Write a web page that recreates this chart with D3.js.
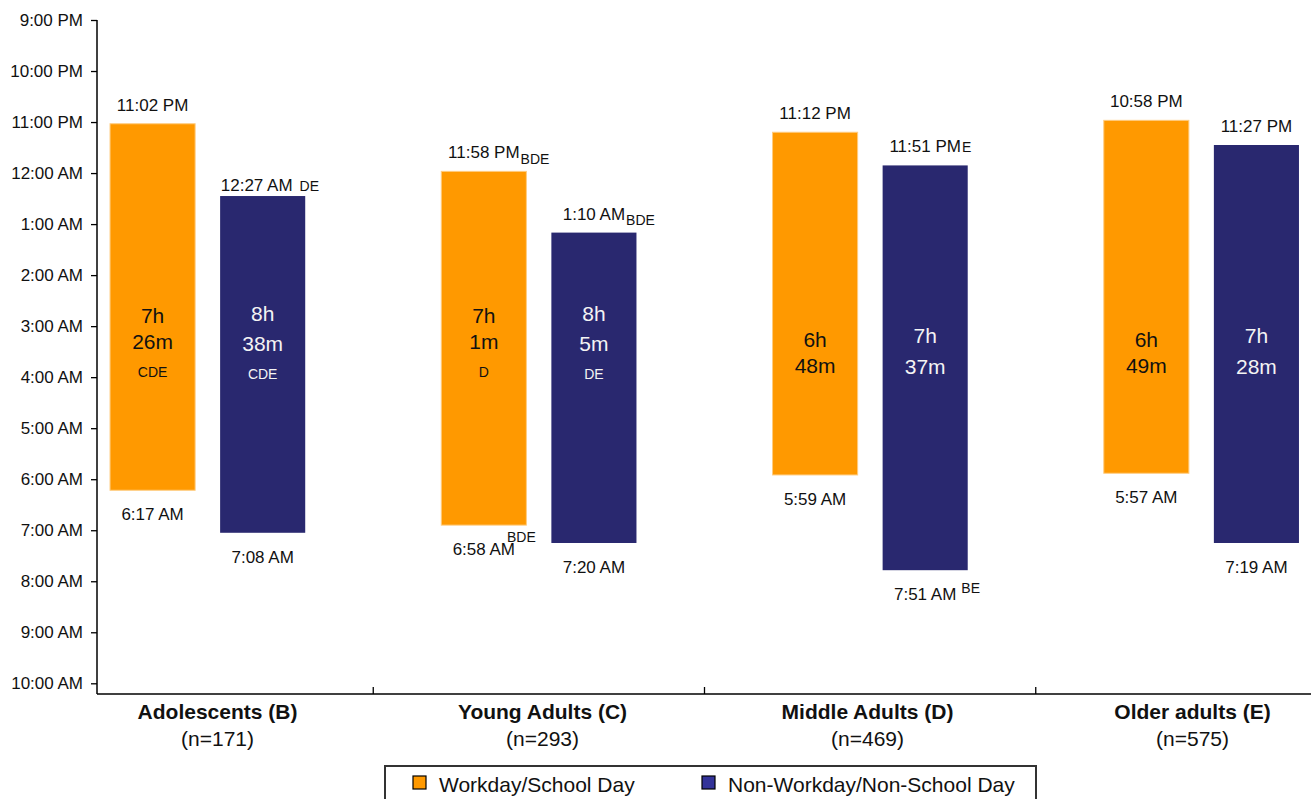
<!DOCTYPE html>
<html>
<head>
<meta charset="utf-8">
<script src="https://cdn.jsdelivr.net/npm/d3@7"></script>
<style>
  body { margin: 0; background: #fff; }
  svg { display: block; font-family: Arial, "Liberation Sans", sans-serif; }
</style>
</head>
<body>
<svg id="chart" width="1311" height="799"></svg>
<script>
// DATA //
// --------------------------------------------------------------- //
var categories = ["Adolescents (B)", "Young Adults (C)", "Middle Adults (D)", "Older adults (E)"];
var sampleSizes = ["(n=171)", "(n=293)", "(n=469)", "(n=575)"];
var seriesNames = ["Workday/School Day", "Non-Workday/Non-School Day"];

// y axis tick labels, one per hour starting 9 PM
var timeTicks = ["9:00 PM", "10:00 PM", "11:00 PM", "12:00 AM", "1:00 AM", "2:00 AM", "3:00 AM",
  "4:00 AM", "5:00 AM", "6:00 AM", "7:00 AM", "8:00 AM", "9:00 AM", "10:00 AM"];

// bar ends, minutes after 9:00 PM
var bedWork = [122, 178, 132, 118];
var bedFree = [207, 250, 171, 147];
var wakeWork = [553, 594, 535, 533];
var wakeFree = [603, 615, 647, 615];

// printed labels
var bedLabelWork = ["11:02 PM", "11:58 PM", "11:12 PM", "10:58 PM"];
var bedLabelFree = ["12:27 AM", "1:10 AM", "11:51 PM", "11:27 PM"];
var wakeLabelWork = ["6:17 AM", "6:58 AM", "5:59 AM", "5:57 AM"];
var wakeLabelFree = ["7:08 AM", "7:20 AM", "7:51 AM", "7:19 AM"];

// sleep duration, minutes
var durWork = [446, 421, 408, 409];
var durFree = [518, 485, 457, 448];

// significance letters
var bedSigWork = ["", "BDE", "", ""];
var bedSigFree = ["DE", "BDE", "E", ""];
var wakeSigWork = ["", "BDE", "", ""];
var wakeSigFree = ["", "", "BE", ""];
var durSigWork = ["CDE", "D", "", ""];
var durSigFree = ["CDE", "DE", "", ""];

var colors = ["#ff9900", "#29286f"];
var swatchColors = ["#ff9900", "#333399"];
var textColors = ["#111", "#f4f4f4"];

// LAYOUT //
// --------------------------------------------------------------- //
var svg = d3.select("#chart");
var plotTop = 20, plotBottom = 694, plotLeft = 97, plotRight = 1311;

var y = d3.scaleLinear().domain([0, 780]).range([20, 683.3]);

// bars sit on one band scale, the category captions on a slightly different one (as in the original)
var xGroup = d3.scaleBand().domain(categories).range([42, 1367]);
var xCaption = d3.scaleBand().domain(categories).range([55, 1355]);
var xSeries = d3.scaleBand().domain([0, 1]).range([0, xGroup.bandwidth()])
  .paddingInner(0.227).paddingOuter(0.618);

// little nudges for the hand placed sig letters [dx, dy]
var bedSigShift = [[[0, 0], [1, 6], [0, 0], [0, 0]], [[7, 0], [1, 5], [1, 0], [0, 0]]];
var wakeSigShift = [[[0, 0], [-8, -13], [0, 0], [0, 0]], [[0, 0], [0, 0], [5, -7], [0, 0]]];
var bedNudge = [[[0, 0], [0, 0], [0, 0], [0, 0]], [[-6, 8], [0, 0], [0, 0], [0, 0]]];

// build the rows
var rows = [];
categories.forEach(function(c, i) {
  rows.push({ cat: c, i: i, s: 0, bed: bedWork[i], wake: wakeWork[i], bedLabel: bedLabelWork[i],
    wakeLabel: wakeLabelWork[i], dur: durWork[i], bedSig: bedSigWork[i], wakeSig: wakeSigWork[i], durSig: durSigWork[i] });
  rows.push({ cat: c, i: i, s: 1, bed: bedFree[i], wake: wakeFree[i], bedLabel: bedLabelFree[i],
    wakeLabel: wakeLabelFree[i], dur: durFree[i], bedSig: bedSigFree[i], wakeSig: wakeSigFree[i], durSig: durSigFree[i] });
});

var barX = d => xGroup(d.cat) + xSeries(d.s);
var barMid = d => barX(d) + xSeries.bandwidth() / 2;

// AXES //
// --------------------------------------------------------------- //
var yAxis = d3.axisLeft(y)
  .tickValues(d3.range(0, 781, 60))
  .tickFormat((d, i) => timeTicks[i])
  .tickSize(6).tickSizeOuter(0).tickPadding(8);

var gy = svg.append("g").attr("transform", "translate(" + plotLeft + ",0)").call(yAxis);
gy.select(".domain").remove();
gy.selectAll("text").attr("font-size", 17).attr("fill", "#111").attr("font-family", null);
gy.selectAll("line").attr("stroke", "#000").attr("stroke-width", 1.3);

svg.append("line").attr("x1", plotLeft).attr("x2", plotLeft)
  .attr("y1", plotTop).attr("y2", plotBottom).attr("stroke", "#000").attr("stroke-width", 1.5);
svg.append("line").attr("x1", plotLeft).attr("x2", plotRight)
  .attr("y1", plotBottom).attr("y2", plotBottom).attr("stroke", "#000").attr("stroke-width", 1.5);

// category divider ticks point up into the plot
svg.selectAll(".cat-tick")
  .data(categories.slice(1))
  .join("line")
  .attr("class", "cat-tick")
  .attr("x1", d => xGroup(d)).attr("x2", d => xGroup(d))
  .attr("y1", plotBottom).attr("y2", plotBottom - 7)
  .attr("stroke", "#000").attr("stroke-width", 1.3);

var caps = svg.selectAll(".cap")
  .data(categories)
  .join("g")
  .attr("class", "cap")
  .attr("transform", d => "translate(" + (xCaption(d) + xCaption.bandwidth() / 2) + ",0)");
caps.append("text").attr("y", 719).attr("text-anchor", "middle")
  .attr("font-size", 21).attr("font-weight", "bold").attr("fill", "#111").text(d => d);
caps.append("text").attr("y", 746).attr("text-anchor", "middle")
  .attr("font-size", 21).attr("fill", "#111").text((d, i) => sampleSizes[i]);

// BARS //
// --------------------------------------------------------------- //
svg.selectAll(".bar")
  .data(rows)
  .join("rect")
  .attr("class", "bar")
  .attr("x", barX)
  .attr("width", xSeries.bandwidth())
  .attr("y", d => y(d.bed))
  .attr("height", d => y(d.wake) - y(d.bed))
  .attr("fill", d => colors[d.s])
  .attr("stroke", d => d.s === 0 ? "#ffcc80" : "none")
  .attr("stroke-width", 1);

// time label with a small letter tag next to it
function timeLabel(d, text, sig, yy, shift, nudge) {
  var cx = barMid(d) + nudge[0];
  var t = svg.append("text")
    .attr("x", cx).attr("y", yy + nudge[1])
    .attr("text-anchor", "middle").attr("font-size", 17).attr("fill", "#111")
    .text(text);
  if (sig) {
    var w = t.node().getComputedTextLength();
    svg.append("text")
      .attr("x", cx + w / 2 + shift[0]).attr("y", yy + nudge[1] + shift[1])
      .attr("font-size", 14).attr("fill", "#111")
      .text(sig);
  }
}

rows.forEach(function(d) {
  timeLabel(d, d.bedLabel, d.bedSig, y(d.bed) - 13, bedSigShift[d.s][d.i], bedNudge[d.s][d.i]);
  timeLabel(d, d.wakeLabel, d.wakeSig, y(d.wake) + 30, wakeSigShift[d.s][d.i], [0, 0]);

  // duration inside the bar
  var h = Math.floor(d.dur / 60), m = d.dur % 60;
  var gap = d.s === 0 ? 26 : 30.5;
  var first = d.durSig ? (d.s === 0 ? 322.5 : 320.5) : (d.s === 0 ? 346.5 : 343);
  var g = svg.append("g").attr("fill", textColors[d.s]).attr("text-anchor", "middle");
  g.append("text").attr("x", barMid(d)).attr("y", first).attr("font-size", 21).text(h + "h");
  g.append("text").attr("x", barMid(d)).attr("y", first + gap).attr("font-size", 21).text(m + "m");
  if (d.durSig) {
    g.append("text").attr("x", barMid(d)).attr("y", first + gap + 28).attr("font-size", 14).text(d.durSig);
  }
});

// LEGEND //
// --------------------------------------------------------------- //
var legend = svg.append("g");
legend.append("rect").attr("x", 385).attr("y", 766).attr("width", 651).attr("height", 60)
  .attr("fill", "#fff").attr("stroke", "#333").attr("stroke-width", 2);

var items = legend.selectAll(".item")
  .data(seriesNames)
  .join("g")
  .attr("class", "item")
  .attr("transform", (d, i) => "translate(" + (i === 0 ? 413 : 702) + ",776)");
items.append("rect").attr("width", 13).attr("height", 13)
  .attr("fill", (d, i) => swatchColors[i]).attr("stroke", "#000").attr("stroke-width", 1.2);
items.append("text").attr("x", 26).attr("y", 15.5).attr("font-size", 21).attr("fill", "#111").text(d => d);
</script>
</body>
</html>
